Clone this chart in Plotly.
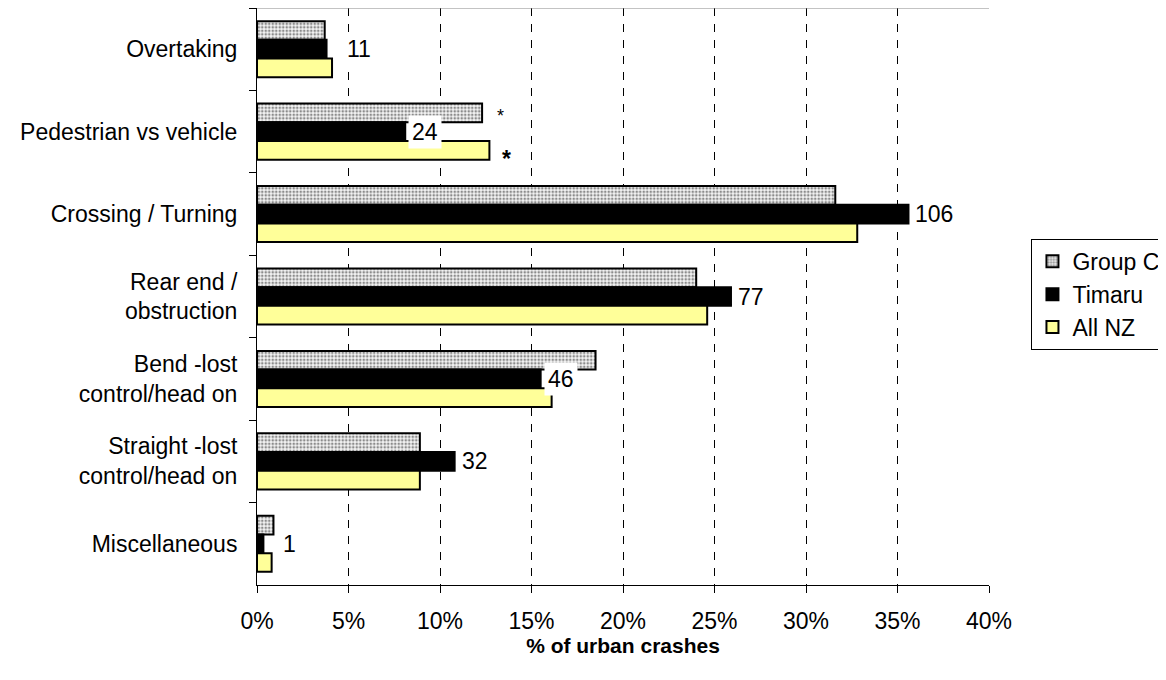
import plotly.graph_objects as go

# crash movement categories (top to bottom)
categories = [
    "Overtaking",
    "Pedestrian vs vehicle",
    "Crossing / Turning",
    "Rear end /<br>obstruction",
    "Bend -lost<br>control/head on",
    "Straight -lost<br>control/head on",
    "Miscellaneous",
]

# % of urban crashes
group_c = [3.7, 12.3, 31.6, 24.0, 18.5, 8.9, 0.9]
timaru = [3.8, 8.1, 35.6, 25.9, 15.5, 10.8, 0.35]
all_nz = [4.1, 12.7, 32.8, 24.6, 16.1, 8.9, 0.8]

# number of Timaru crashes shown at the bar ends
timaru_counts = [11, 24, 106, 77, 46, 32, 1]

x_ticks = [0, 5, 10, 15, 20, 25, 30, 35, 40]
x_labels = [f"{t}%" for t in x_ticks]

FONT = "Liberation Sans, Arial, sans-serif"
FS = 23

fig = go.Figure()

fig.add_trace(go.Bar(
    y=categories, x=group_c, orientation="h", name="Group C",
    marker=dict(
        color="white",
        line=dict(color="black", width=2),
        pattern=dict(shape=".", fgcolor="#222222", bgcolor="#f4f4f4",
                     size=3.5, solidity=0.45),
    ),
))
fig.add_trace(go.Bar(
    y=categories, x=timaru, orientation="h", name="Timaru",
    marker=dict(color="black", line=dict(color="black", width=2)),
))
fig.add_trace(go.Bar(
    y=categories, x=all_nz, orientation="h", name="All NZ",
    marker=dict(color="#FFFF99", line=dict(color="black", width=2)),
))

# Timaru crash counts with white label boxes
for cat, val, n in zip(categories, timaru, timaru_counts):
    # Excel pushed the labels of the tiny bars a little further out
    shift = 3 if val > 5 else 16
    fig.add_annotation(
        x=val, y=cat, text=str(n), showarrow=False,
        xanchor="left", yanchor="middle", xshift=shift,
        bgcolor="white", borderpad=3,
        font=dict(family=FONT, size=FS, color="black"),
    )

# asterisks next to the Pedestrian bars (Group C above, All NZ below)
ped = categories[1]
fig.add_annotation(
    x=group_c[1], y=ped, text="*", showarrow=False,
    xanchor="left", xshift=13, yshift=16,
    font=dict(family=FONT, size=18, color="black"),
)
fig.add_annotation(
    x=all_nz[1], y=ped, text="<b>*</b>", showarrow=False,
    xanchor="left", xshift=11, yshift=-27,
    font=dict(family=FONT, size=FS, color="black"),
)

# thin grey border on top of the plot area
fig.add_shape(type="line", xref="paper", yref="paper", x0=0, x1=1, y0=1, y1=1,
              line=dict(color="#888888", width=1))

# page body adds 8px margin, so margins are shifted to keep the plot in place
fig.update_layout(
    width=1166, height=680,
    margin=dict(l=249, r=185, t=0, b=103, autoexpand=False),
    paper_bgcolor="white", plot_bgcolor="white",
    barmode="group", bargap=0.32, bargroupgap=0,
    font=dict(family=FONT, size=FS, color="black"),
    showlegend=True,
    legend=dict(
        x=1.058, y=0.6, xanchor="left", yanchor="top",
        bgcolor="white", bordercolor="black", borderwidth=1,
        font=dict(family=FONT, size=FS, color="black"),
        itemwidth=30, tracegroupgap=0,
    ),
)

fig.update_xaxes(
    range=[0, 40], tickvals=x_ticks, ticktext=x_labels,
    automargin=False,
    showline=True, linecolor="black", linewidth=1,
    ticks="outside", ticklen=7, tickcolor="black",
    showgrid=True, gridcolor="black", gridwidth=1, griddash="8px,8px",
    zeroline=False,
    tickfont=dict(family=FONT, size=FS),
    ticklabelstandoff=8,
    title=dict(text="<b>% of urban crashes</b>", standoff=1,
               font=dict(family=FONT, size=21)),
)

fig.update_yaxes(
    autorange="reversed", automargin=False,
    showline=True, linecolor="black", linewidth=1,
    ticks="outside", ticklen=7, tickcolor="black", tickson="boundaries",
    showgrid=False,
    tickfont=dict(family=FONT, size=FS),
    ticklabelstandoff=14,
)

fig.write_html("out.html")
